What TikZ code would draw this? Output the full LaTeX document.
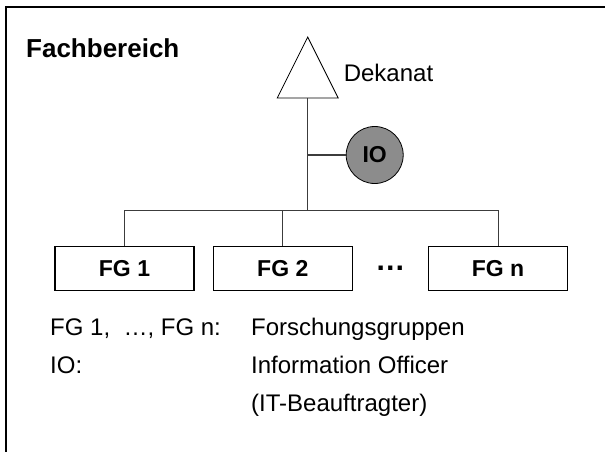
\documentclass[tikz,border=0pt]{standalone}
\usepackage{fontspec}
\setmainfont{Liberation Sans}
\usepackage{tikz}
\usetikzlibrary{shapes.geometric}

\definecolor{iofill}{RGB}{140,140,140}
\definecolor{connline}{RGB}{60,60,60}

\begin{document}
\begin{tikzpicture}[x=1pt,y=-1pt,
    lbl/.style={inner sep=0pt, anchor=base west, font=\fontsize{24}{28}\selectfont},
    fg/.style={draw, line width=1.6pt, minimum width=139pt, minimum height=44pt,
      font=\bfseries\fontsize{23}{27}\selectfont},
    dotsbox/.style={inner sep=0pt, minimum width=39pt, font=\bfseries\fontsize{30}{30}\selectfont},
    conn/.style={line width=1.2pt, connline}]
  \useasboundingbox (0,0) rectangle (605,451);
  \draw[line width=2pt] (606,7) -- (6,7) -- (6,452);

  \node[lbl, font=\bfseries\fontsize{26}{30}\selectfont] (FB) at (26,57) {Fachbereich};

  \node[draw, line width=0.8pt, isosceles triangle, isosceles triangle stretches,
    shape border rotate=90, minimum width=61pt, minimum height=61pt, inner sep=0pt,
    anchor=apex] (Dek) at (307.7,36) {};
  \node[lbl] (DekT) at (343.6,81.7) {Dekanat};

  \node[circle, draw, line width=0.8pt, fill=iofill, minimum size=57pt, inner sep=0pt,
    font=\bfseries\fontsize{23}{27}\selectfont] (IO) at (374.7,155) {IO};

  \matrix[column sep=18pt, inner sep=0pt, anchor=west] (FGrow) at (54,268.5)
  {
    \node[fg](FG1) {FG 1}; & \node[fg, line width=1pt](FG2) {FG 2}; &
    \node[dotsbox](DOTS) {…}; & \node[fg](FGn) {FG n}; \\
  };

  \coordinate (bus) at (307.7,210.7);
  \draw[conn] (Dek.lower side) -- (bus);
  \draw[conn] (IO.west -| Dek.lower side) -- (IO.west);
  \draw[conn] (FG1.north) |- (bus) -| (FGn.north);
  \draw[conn] (FG2.north) -- (FG2.north |- bus);

  \node[lbl] (L1a) at (50,335) {FG 1,\ \ …, FG n:};
  \node[lbl] (L1b) at (251,335) {Forschungsgruppen};
  \node[lbl] (L2a) at (50,373) {IO:};
  \node[lbl] (L2b) at (251,373) {Information Officer};
  \node[lbl] (L3b) at (251,411.7) {(IT-Beauftragter)};
\end{tikzpicture}
\end{document}
